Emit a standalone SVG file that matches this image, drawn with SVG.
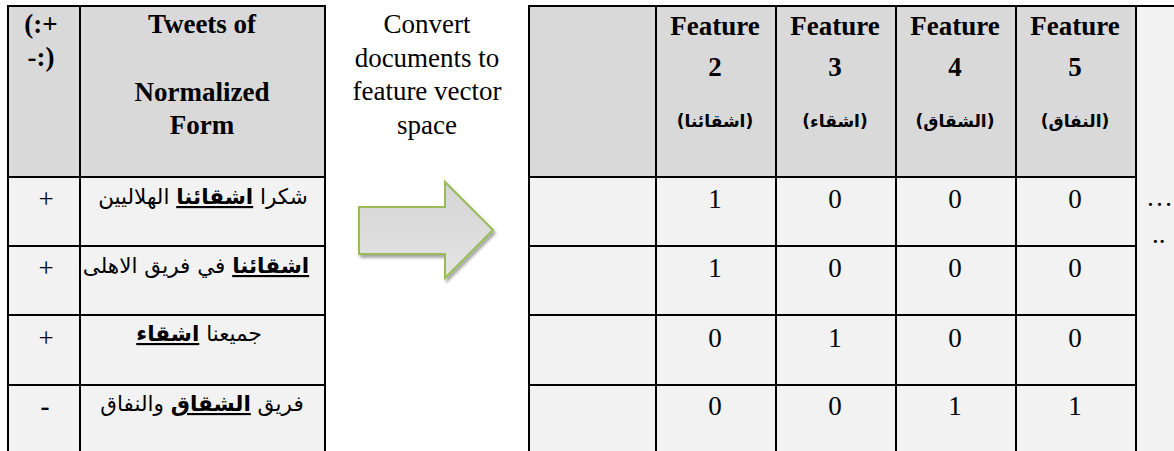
<svg xmlns="http://www.w3.org/2000/svg" width="1174" height="451" viewBox="0 0 1174 451">
<style>
.hd{fill:#d9d9d9}
.bd{fill:#f2f2f2}
.ln{stroke:#000;stroke-width:2;fill:none}
.t{font-family:"Liberation Serif","Times New Roman",serif;font-size:27px;fill:#000;text-anchor:middle}
.b{font-weight:bold}
.ar{font-family:"DejaVu Sans","Noto Sans Arabic",sans-serif;font-size:21.5px;fill:#000;text-anchor:middle;direction:rtl;unicode-bidi:embed}
.ah{font-family:"DejaVu Sans","Noto Sans Arabic",sans-serif;font-size:17px;font-weight:bold;fill:#000;text-anchor:middle;direction:rtl;unicode-bidi:embed}
.u{font-weight:bold;text-decoration:underline}
</style>
<defs>
<linearGradient id="ag" x1="0" y1="0" x2="0" y2="1">
<stop offset="0" stop-color="#d4d4d4"/>
<stop offset="1" stop-color="#e4e4e4"/>
</linearGradient>
<filter id="sh" x="-20%" y="-20%" width="140%" height="140%">
<feGaussianBlur in="SourceAlpha" stdDeviation="1.5"/>
<feOffset dx="2" dy="3" result="o"/>
<feComponentTransfer><feFuncA type="linear" slope="0.35"/></feComponentTransfer>
<feMerge><feMergeNode/><feMergeNode in="SourceGraphic"/></feMerge>
</filter>
</defs>
<rect width="1174" height="451" fill="#fff"/>

<g id="left-table">
<rect class="hd" x="8" y="6" width="317" height="171"/>
<rect class="bd" x="8" y="177" width="317" height="274"/>
<path class="ln" d="M8 6H325M8 177H325M8 246H325M8 315H325M8 385H325M8 5V451M80 5V451M325 5V451"/>
<text class="t b" x="41" y="33">(:+</text>
<text class="t b" x="41" y="66">-:)</text>
<text class="t b" x="202" y="33">Tweets of</text>
<text class="t b" x="202" y="101">Normalized</text>
<text class="t b" x="202" y="134">Form</text>
<text class="t" x="46" y="208">+</text>
<text class="t" x="46" y="277">+</text>
<text class="t" x="46" y="347">+</text>
<text class="t b" x="45" y="415">-</text>
<text class="ar" x="203" y="204">شكرا <tspan class="u">اشقائنا</tspan> الهلاليين</text>
<text class="ar" x="196" y="273"><tspan class="u">اشقائنا</tspan> في فريق الاهلى</text>
<text class="ar" x="199" y="341">جميعنا <tspan class="u">اشقاء</tspan></text>
<text class="ar" x="202" y="411">فريق <tspan class="u">الشقاق</tspan> والنفاق</text>
</g>

<g id="convert-label">
<text class="t" x="427" y="33">Convert</text>
<text class="t" x="427" y="67">documents to</text>
<text class="t" x="427" y="100">feature vector</text>
<text class="t" x="427" y="134">space</text>
</g>

<g id="connectors">
<polygon points="359,207 445,207 445,182 493,230 445,278 445,254 359,254" fill="url(#ag)" stroke="#9bbb59" stroke-width="2" stroke-linejoin="miter" filter="url(#sh)"/>
</g>

<g id="right-table">
<rect class="bd" x="1136" y="6" width="38" height="445"/>
<rect class="hd" x="529" y="6" width="607" height="171"/>
<rect class="bd" x="529" y="177" width="607" height="274"/>
<path class="ln" d="M529 6H1174M529 177H1136M529 246H1136M529 315H1136M529 385H1136M529 5V451M656 5V451M776 5V451M896 5V451M1016 5V451M1136 5V451"/>
<text class="t b" x="715" y="35">Feature</text>
<text class="t b" x="715" y="76">2</text>
<text class="ah" x="715" y="127">(اشقائنا)</text>
<text class="t b" x="835" y="35">Feature</text>
<text class="t b" x="835" y="76">3</text>
<text class="ah" x="835" y="127">(اشقاء)</text>
<text class="t b" x="955" y="35">Feature</text>
<text class="t b" x="955" y="76">4</text>
<text class="ah" x="955" y="127">(الشقاق)</text>
<text class="t b" x="1075" y="35">Feature</text>
<text class="t b" x="1075" y="76">5</text>
<text class="ah" x="1075" y="127">(النفاق)</text>
<text class="t" x="715" y="208">1</text>
<text class="t" x="835" y="208">0</text>
<text class="t" x="955" y="208">0</text>
<text class="t" x="1075" y="208">0</text>
<text class="t" x="715" y="277">1</text>
<text class="t" x="835" y="277">0</text>
<text class="t" x="955" y="277">0</text>
<text class="t" x="1075" y="277">0</text>
<text class="t" x="715" y="347">0</text>
<text class="t" x="835" y="347">1</text>
<text class="t" x="955" y="347">0</text>
<text class="t" x="1075" y="347">0</text>
<text class="t" x="715" y="415">0</text>
<text class="t" x="835" y="415">0</text>
<text class="t" x="955" y="415">1</text>
<text class="t" x="1075" y="415">1</text>
<text class="t" x="1146" y="206" style="text-anchor:start">…</text>
<text class="t" x="1152" y="243" style="text-anchor:start">..</text>
</g>
</svg>
